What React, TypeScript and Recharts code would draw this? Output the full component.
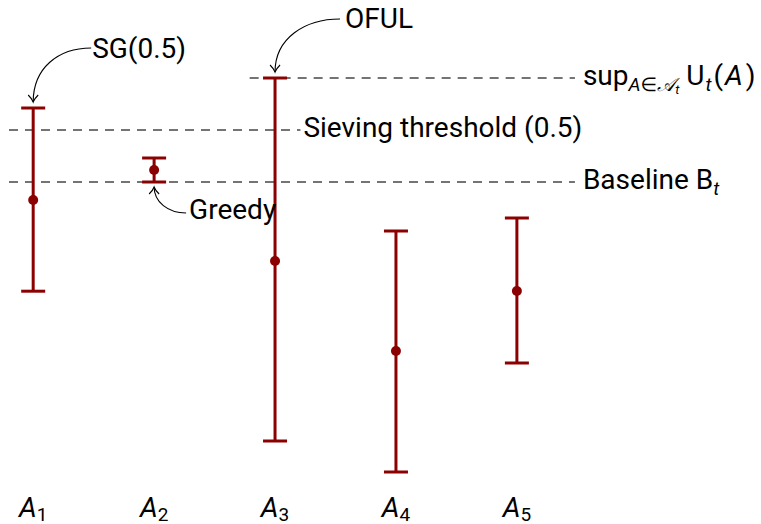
import React from 'react';
import { ScatterChart, Scatter, XAxis, YAxis, ErrorBar, ReferenceLine, ReferenceDot } from 'recharts';

// ---- data ----
const armIndex = [1, 2, 3, 4, 5];
const armLabels = ['1', '2', '3', '4', '5'];
const means = [7.0, 7.75, 5.475, 3.225, 4.725];
const lowers = [4.72, 7.45, 0.975, 0.2, 2.925];
const uppers = [9.3, 8.05, 10.05, 6.225, 6.55];

const supLevel = 10.05;
const sieveLevel = 8.75;
const baselineLevel = 7.45;
const supRange = [2.79, 5.48];
const sieveRange = [0.8, 3.21];
const baselineRange = [0.8, 5.48];

const RED = '#8b0000';
const GRAY = '#474747';
const FONT = 'Roboto, "DejaVu Sans", sans-serif';
const FS = 28;

const data = armIndex.map((x, i) => ({
  x,
  y: means[i],
  err: [means[i] - lowers[i], uppers[i] - means[i]],
}));

const Dot = (p: any) => <circle cx={p.cx} cy={p.cy} r={5} fill={RED} />;

const ArmTick = (p: any) => {
  const idx = armIndex.indexOf(p.payload.value);
  return (
    <text x={p.x} y={p.y + 29} textAnchor="middle" fontFamily={FONT} fontSize={FS} fill="#000">
      <tspan fontStyle="italic">A</tspan>
      <tspan fontSize={19} dy={4}>{armLabels[idx]}</tspan>
    </text>
  );
};

const arrowHeadDown = (x: number, y: number) =>
  `M ${x - 5} ${y - 7} Q ${x - 1} ${y - 3} ${x} ${y} Q ${x + 1} ${y - 3} ${x + 5} ${y - 7}`;
const arrowHeadUp = (x: number, y: number) =>
  `M ${x - 5} ${y + 7} Q ${x - 1} ${y + 3} ${x} ${y} Q ${x + 1} ${y + 3} ${x + 5} ${y + 7}`;

const SGNote = (p: any) => {
  const { cx, cy } = p;
  return (
    <g>
      <path d={`M ${cx + 58} ${cy - 60} C ${cx + 25} ${cy - 60}, ${cx} ${cy - 40}, ${cx} ${cy - 6}`} fill="none" stroke="#000" strokeWidth={1.1} />
      <path d={arrowHeadDown(cx, cy - 6)} fill="none" stroke="#000" strokeWidth={1.1} />
      <text x={cx + 59} y={cy - 50} fontFamily={FONT} fontSize={FS} fill="#000">SG(0.5)</text>
    </g>
  );
};

const OFULNote = (p: any) => {
  const { cx, cy } = p;
  return (
    <g>
      <path d={`M ${cx + 65} ${cy - 59} C ${cx + 30} ${cy - 59}, ${cx} ${cy - 40}, ${cx} ${cy - 6}`} fill="none" stroke="#000" strokeWidth={1.1} />
      <path d={arrowHeadDown(cx, cy - 6)} fill="none" stroke="#000" strokeWidth={1.1} />
      <text x={cx + 70} y={cy - 50} fontFamily={FONT} fontSize={FS} fill="#000">OFUL</text>
    </g>
  );
};

const GreedyNote = (p: any) => {
  const { cx, cy } = p;
  return (
    <g>
      <path d={`M ${cx + 32} ${cy + 31} C ${cx + 14} ${cy + 31}, ${cx} ${cy + 20}, ${cx} ${cy + 5}`} fill="none" stroke="#000" strokeWidth={1.1} />
      <path d={arrowHeadUp(cx, cy + 5)} fill="none" stroke="#000" strokeWidth={1.1} />
      <text x={cx + 35} y={cy + 37} fontFamily={FONT} fontSize={FS} fill="#000">Greedy</text>
    </g>
  );
};

const SupLabel = (p: any) => {
  const vb = p.viewBox;
  return (
    <text x={vb.x + vb.width + 8} y={vb.y + 7} fontFamily={FONT} fontSize={FS} fill="#000">
      <tspan>sup</tspan>
      <tspan fontSize={19} dy={6} fontStyle="italic">A</tspan>
      <tspan fontSize={19}>∈</tspan>
      <tspan fontSize={19} fontStyle="italic">𝒜</tspan>
      <tspan fontSize={13} dy={3} fontStyle="italic">t</tspan>
      <tspan dy={-9} dx={7}>U</tspan>
      <tspan fontSize={19} dy={6} fontStyle="italic" dx={1}>t</tspan>
      <tspan dy={-6} dx={2}>(</tspan>
      <tspan fontStyle="italic" dx={2}>A</tspan>
      <tspan dx={3}>)</tspan>
    </text>
  );
};

const SieveLabel = (p: any) => {
  const vb = p.viewBox;
  return (
    <text x={vb.x + vb.width + 3} y={vb.y + 7} fontFamily={FONT} fontSize={FS} fill="#000">
      Sieving threshold (0.5)
    </text>
  );
};

const BaselineLabel = (p: any) => {
  const vb = p.viewBox;
  return (
    <text x={vb.x + vb.width + 8} y={vb.y + 7} fontFamily={FONT} fontSize={FS} fill="#000">
      <tspan>Baseline B</tspan>
      <tspan fontSize={19} dy={6} fontStyle="italic">t</tspan>
    </text>
  );
};

export default function App() {
  return (
    <div style={{ position: 'absolute', left: 0, top: 0, width: 761, height: 524 }}>
      <ScatterChart width={761} height={524} margin={{ top: 40, right: 99, bottom: 0, left: 9 }}>
        <XAxis
          type="number"
          dataKey="x"
          domain={[0.8, 6.2]}
          ticks={armIndex}
          interval={0}
          axisLine={false}
          tickLine={false}
          height={44}
          tick={ArmTick}
        />
        <YAxis type="number" dataKey="y" domain={[0, 11]} hide />
        <ReferenceLine
          segment={[{ x: supRange[0], y: supLevel }, { x: supRange[1], y: supLevel }]}
          stroke={GRAY}
          strokeWidth={1.4}
          strokeDasharray="9 7"
          label={SupLabel}
        />
        <ReferenceLine
          segment={[{ x: sieveRange[0], y: sieveLevel }, { x: sieveRange[1], y: sieveLevel }]}
          stroke={GRAY}
          strokeWidth={1.4}
          strokeDasharray="9 7"
          label={SieveLabel}
        />
        <ReferenceLine
          segment={[{ x: baselineRange[0], y: baselineLevel }, { x: baselineRange[1], y: baselineLevel }]}
          stroke={GRAY}
          strokeWidth={1.4}
          strokeDasharray="9 7"
          label={BaselineLabel}
        />
        <Scatter data={data} shape={Dot} isAnimationActive={false}>
          <ErrorBar dataKey="err" direction="y" width={12} stroke={RED} strokeWidth={3} isAnimationActive={false} />
        </Scatter>
        <ReferenceDot x={armIndex[0]} y={uppers[0]} shape={SGNote} />
        <ReferenceDot x={armIndex[2]} y={uppers[2]} shape={OFULNote} />
        <ReferenceDot x={armIndex[1]} y={lowers[1]} shape={GreedyNote} />
      </ScatterChart>
    </div>
  );
}
